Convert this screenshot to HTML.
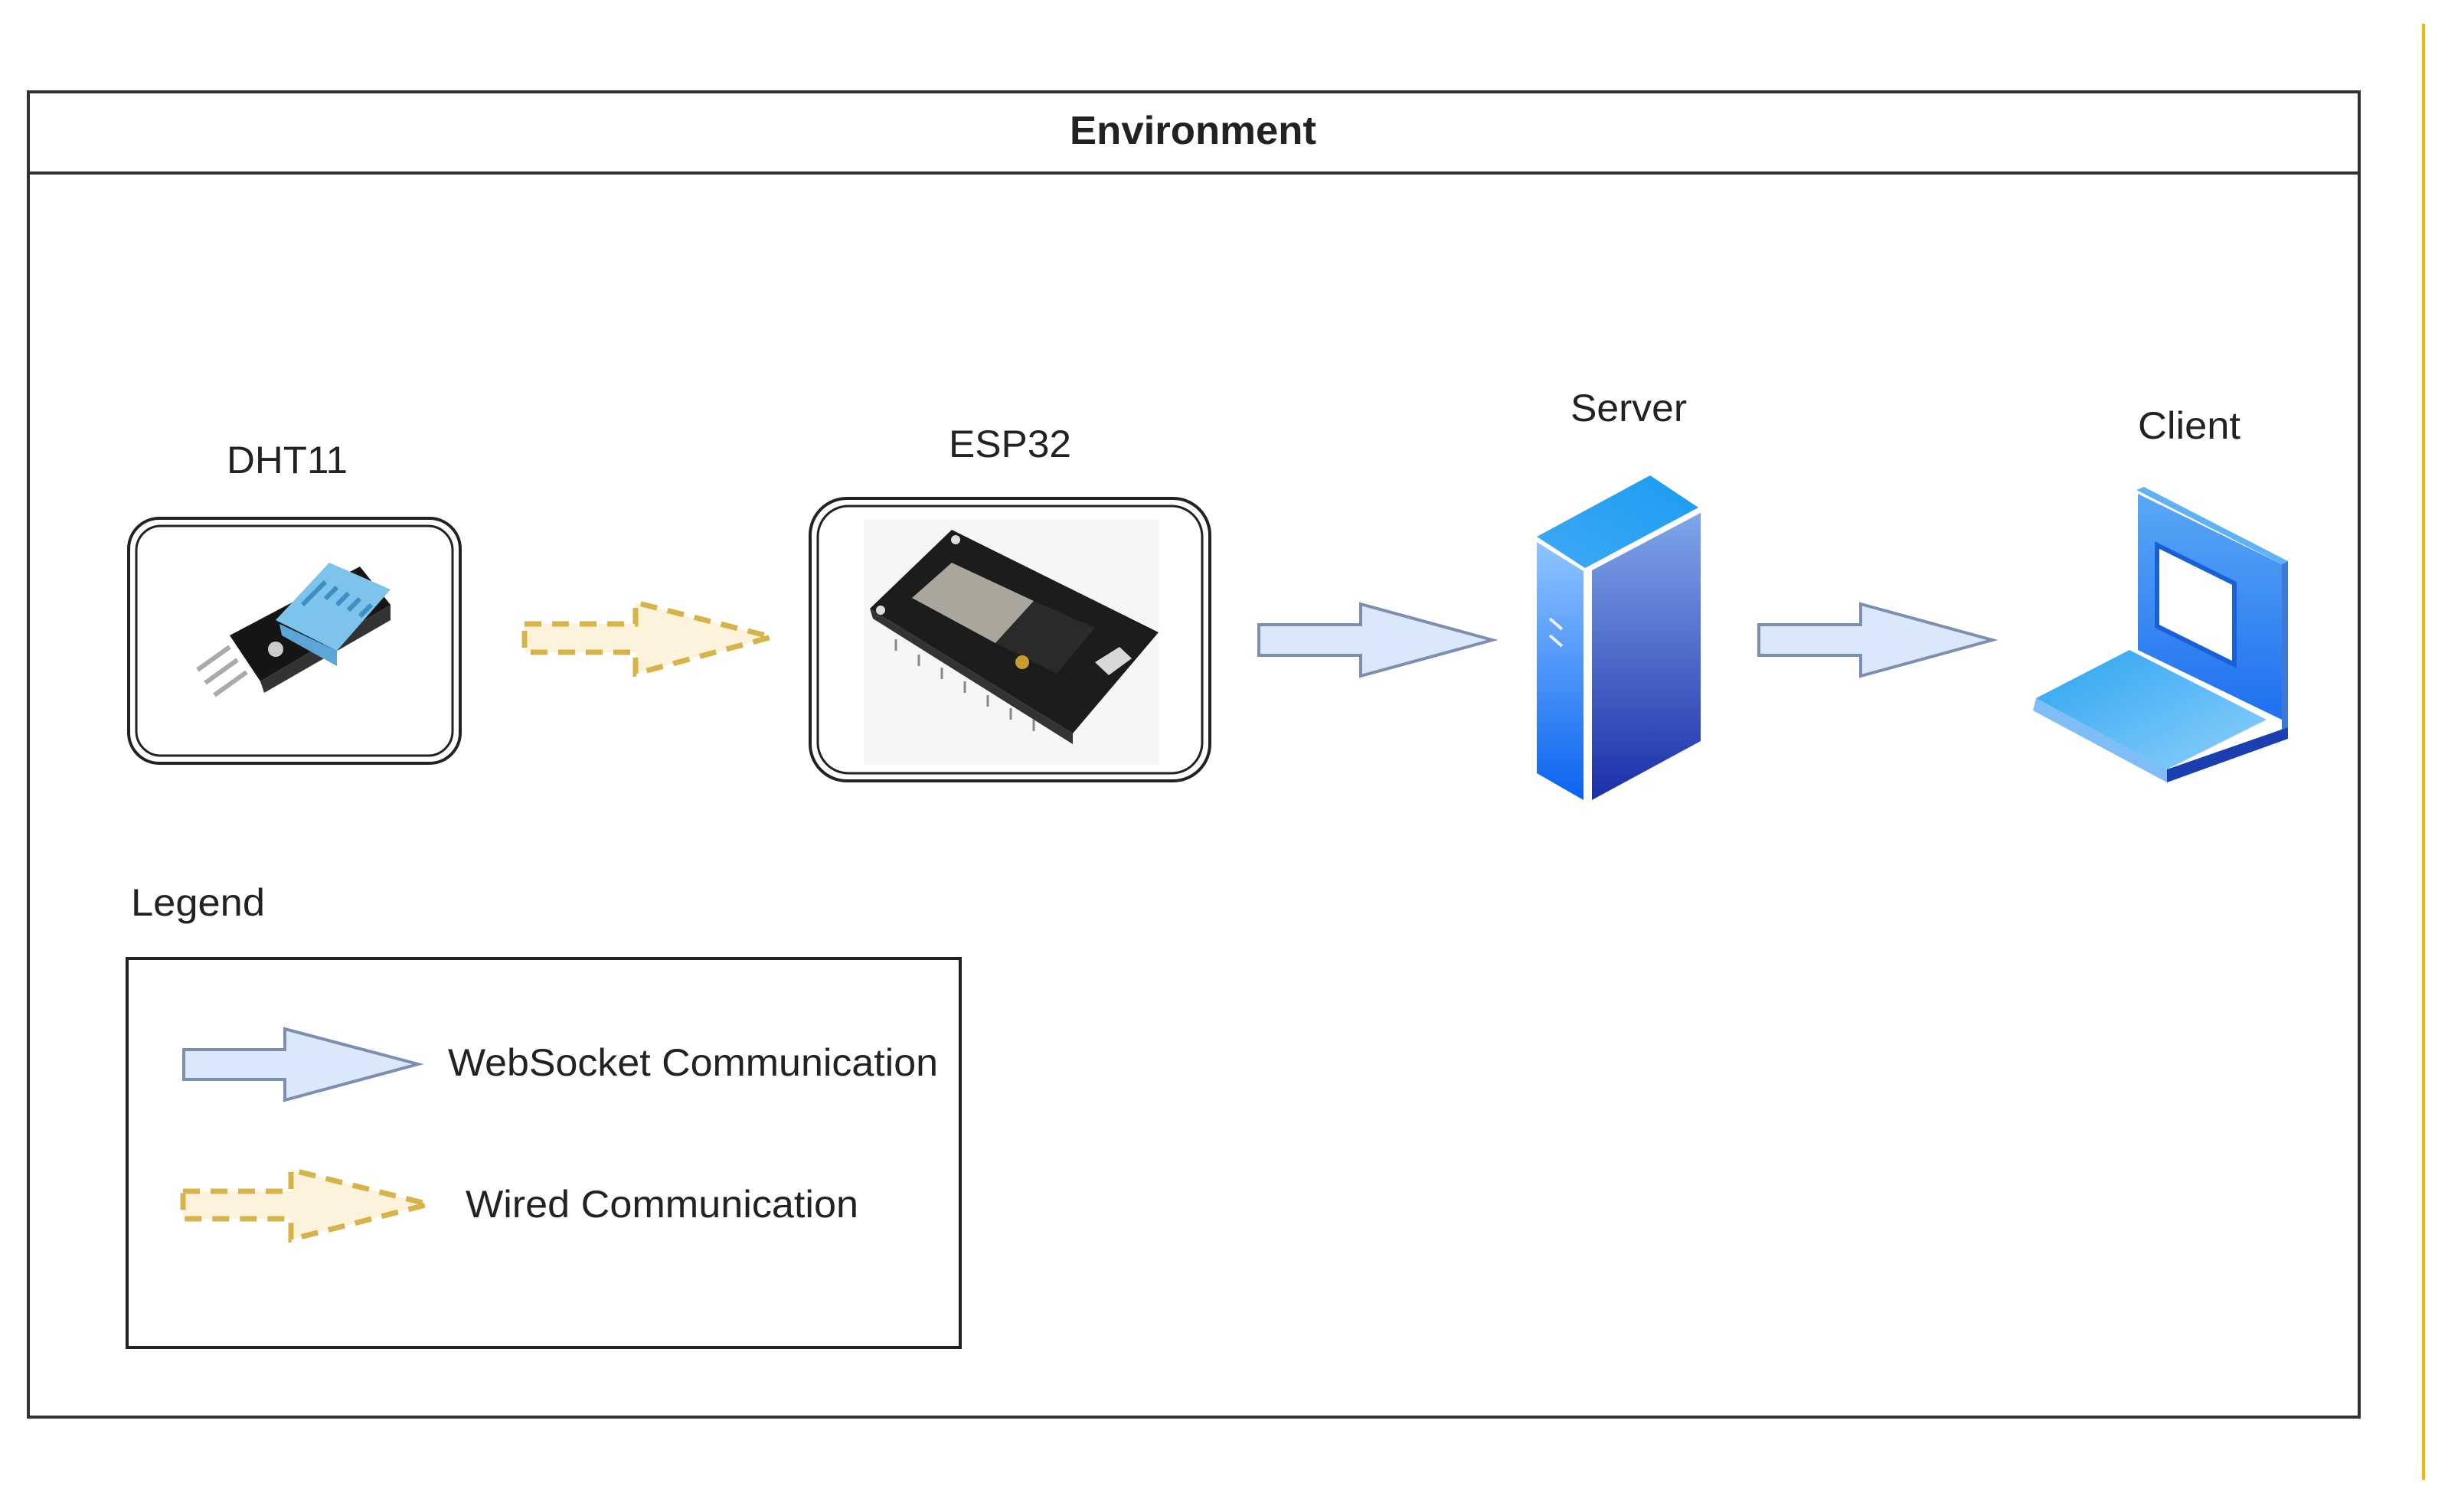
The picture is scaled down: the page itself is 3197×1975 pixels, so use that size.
<!DOCTYPE html>
<html><head><meta charset="utf-8"><style>
html,body{margin:0;padding:0;background:#fff;}
svg{display:block;}
text{font-family:"Liberation Sans",Arial,sans-serif;fill:#222;}
</style></head><body>
<svg width="3197" height="1975" viewBox="0 0 3197 1975" xmlns="http://www.w3.org/2000/svg">
<defs>
<linearGradient id="srvL" x1="0" y1="0" x2="0" y2="1"><stop offset="0" stop-color="#8ec5ff"/><stop offset="1" stop-color="#0a63f0"/></linearGradient>
<linearGradient id="srvR" x1="0" y1="0" x2="0" y2="1"><stop offset="0" stop-color="#7fa6ea"/><stop offset="1" stop-color="#1b2fa8"/></linearGradient>
<linearGradient id="srvT" x1="0" y1="1" x2="1" y2="0"><stop offset="0" stop-color="#3fa9f5"/><stop offset="1" stop-color="#1a9cf0"/></linearGradient>
<linearGradient id="lapS" x1="0" y1="0" x2="0" y2="1"><stop offset="0" stop-color="#5aa8f5"/><stop offset="1" stop-color="#1f6ff0"/></linearGradient>
<linearGradient id="lapB" x1="0" y1="0" x2="1" y2="1"><stop offset="0" stop-color="#2aa4f0"/><stop offset="1" stop-color="#8fd0fb"/></linearGradient>
</defs>

<!-- yellow line -->
<line x1="3165" y1="31" x2="3165" y2="1933" stroke="#f2b705" stroke-width="4"/>

<!-- outer container -->
<rect x="37" y="120" width="3044" height="1731" fill="#fff" stroke="#333" stroke-width="4"/>
<line x1="37" y1="226" x2="3081" y2="226" stroke="#333" stroke-width="4"/>
<text x="1558" y="188" font-size="52" font-weight="bold" text-anchor="middle" textLength="322" lengthAdjust="spacingAndGlyphs">Environment</text>

<!-- DHT11 -->
<text x="375" y="618" font-size="50" text-anchor="middle" textLength="158" lengthAdjust="spacingAndGlyphs">DHT11</text>
<rect x="168" y="677" width="433" height="320" rx="40" fill="#fff" stroke="#222" stroke-width="4"/>
<rect x="178" y="687" width="413" height="300" rx="32" fill="none" stroke="#222" stroke-width="3"/>
<g>
  <polygon points="300,830 470,740 510,790 340,890" fill="#151515"/>
  <polygon points="340,890 510,790 510,810 345,905" fill="#333"/>
  <polygon points="360,810 430,735 510,770 440,850" fill="#7cc4ec"/>
  <polygon points="365,815 440,850 440,870 368,830" fill="#5aa6d6"/>
  <g stroke="#3d8fc3" stroke-width="6">
    <line x1="410" y1="775" x2="425" y2="760"/><line x1="425" y1="782" x2="440" y2="767"/>
    <line x1="440" y1="790" x2="455" y2="775"/><line x1="455" y1="797" x2="470" y2="782"/>
    <line x1="395" y1="790" x2="410" y2="775"/><line x1="470" y1="805" x2="485" y2="790"/>
  </g>
  <circle cx="360" cy="848" r="10" fill="#ccc"/>
  <g stroke="#aaa" stroke-width="6"><line x1="300" y1="845" x2="258" y2="875"/><line x1="310" y1="862" x2="268" y2="892"/><line x1="322" y1="878" x2="280" y2="908"/></g>
</g>

<!-- dashed yellow arrow -->
<polygon points="685,815 830,815 830,787 1008,832 830,880 830,852 685,852" fill="#fdf3dc" stroke="#d6b44a" stroke-width="7" stroke-dasharray="22,14"/>

<!-- ESP32 -->
<text x="1319" y="597" font-size="50" text-anchor="middle" textLength="160" lengthAdjust="spacingAndGlyphs">ESP32</text>
<rect x="1058" y="651" width="522" height="369" rx="48" fill="#fff" stroke="#222" stroke-width="4"/>
<rect x="1068" y="661" width="502" height="349" rx="40" fill="none" stroke="#222" stroke-width="3"/>
<rect x="1128" y="679" width="385" height="320" fill="#f6f6f6"/>
<g>
  <polygon points="1136,795 1243,692 1513,826 1401,958" fill="#1c1c1c"/>
  <polygon points="1136,795 1401,958 1401,972 1140,808" fill="#333"/>
  <polygon points="1191,781 1243,735 1350,785 1300,840" fill="#a9a79c"/>
  <polygon points="1300,840 1350,785 1430,820 1380,880" fill="#2a2a2a"/>
  <circle cx="1335" cy="865" r="9" fill="#c99c2e"/>
  <polygon points="1430,865 1462,845 1478,860 1448,882" fill="#d8d8d8"/>
  <g stroke="#888" stroke-width="3">
    <line x1="1170" y1="835" x2="1170" y2="850"/><line x1="1200" y1="855" x2="1200" y2="870"/><line x1="1230" y1="872" x2="1230" y2="887"/>
    <line x1="1260" y1="890" x2="1260" y2="905"/><line x1="1290" y1="908" x2="1290" y2="923"/><line x1="1320" y1="925" x2="1320" y2="940"/><line x1="1350" y1="940" x2="1350" y2="955"/>
  </g>
  <circle cx="1248" cy="705" r="6" fill="#ddd"/><circle cx="1150" cy="797" r="6" fill="#ddd"/>
</g>

<!-- websocket arrow 1 -->
<polygon points="1644,816 1777,816 1777,789 1949,836 1777,883 1777,856 1644,856" fill="#dae8fc" stroke="#7d8fb0" stroke-width="4"/>

<!-- Server -->
<text x="2127" y="550" font-size="50" text-anchor="middle" textLength="152" lengthAdjust="spacingAndGlyphs">Server</text>
<polygon points="2007,701 2155,621 2218,663 2070,742" fill="url(#srvT)"/>
<polygon points="2007,708 2068,746 2068,1045 2007,1010" fill="url(#srvL)"/>
<polygon points="2079,745 2221,670 2221,968 2079,1045" fill="url(#srvR)"/>
<g stroke="#e8f1ff" stroke-width="4"><line x1="2024" y1="808" x2="2040" y2="822"/><line x1="2024" y1="830" x2="2040" y2="844"/></g>

<!-- websocket arrow 2 -->
<polygon points="2297,816 2430,816 2430,789 2602,836 2430,883 2430,856 2297,856" fill="#dae8fc" stroke="#7d8fb0" stroke-width="4"/>

<!-- Client laptop -->
<text x="2859" y="573" font-size="50" text-anchor="middle" textLength="134" lengthAdjust="spacingAndGlyphs">Client</text>
<polygon points="2790,640 2800,636 2988,733 2980,737" fill="#5fb3f5"/>
<polygon points="2980,737 2988,733 2988,950 2980,955" fill="#3e79d8"/>
<polygon points="2792,645 2980,737 2980,940 2792,849" fill="url(#lapS)"/>
<polygon points="2817,712 2918,762 2918,868 2817,818" fill="#ffffff" stroke="#1a5ed8" stroke-width="6"/>
<polygon points="2659,912 2781,849 2960,940 2830,1005" fill="url(#lapB)"/>
<polygon points="2659,912 2830,1005 2830,1022 2655,928" fill="#7fbdf6"/>
<polygon points="2830,1005 2988,950 2988,965 2830,1022" fill="#1b3fb0"/>

<!-- Legend -->
<text x="171" y="1196" font-size="50" textLength="175" lengthAdjust="spacingAndGlyphs">Legend</text>
<rect x="166" y="1252" width="1088" height="508" fill="#fff" stroke="#222" stroke-width="4"/>
<polygon points="240,1371 372,1371 372,1344 546,1390 372,1437 372,1410 240,1410" fill="#dae8fc" stroke="#7d8fb0" stroke-width="4"/>
<text x="585" y="1405" font-size="50" textLength="640" lengthAdjust="spacingAndGlyphs">WebSocket Communication</text>
<polygon points="239,1556 380,1556 380,1528 560,1573 380,1619 380,1592 239,1592" fill="#fdf3dc" stroke="#d6b44a" stroke-width="7" stroke-dasharray="22,14"/>
<text x="608" y="1590" font-size="50" textLength="513" lengthAdjust="spacingAndGlyphs">Wired Communication</text>
</svg>
</body></html>
